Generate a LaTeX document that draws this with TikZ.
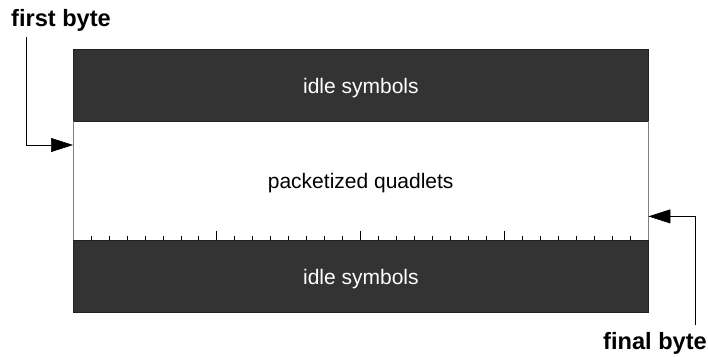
\documentclass[tikz,border=0pt]{standalone}
\usepackage{fontspec}
\setmainfont{Liberation Sans}
\usetikzlibrary{arrows.meta,positioning,calc}
\definecolor{banddark}{HTML}{333333}
\definecolor{bandedge}{HTML}{222222}
\definecolor{sideline}{HTML}{808080}

\begin{document}
\begin{tikzpicture}[
        x=1pt,y=-1pt,
        every node/.style={inner sep=0pt},
        idle/.style={fill=banddark,draw=bandedge,line width=0.8pt,text=white,
          minimum width=575pt,minimum height=72pt,text depth=0pt,
          font=\fontsize{21}{24}\selectfont},
        payload/.style={minimum width=575pt,minimum height=119pt,text depth=0pt,
          font=\fontsize{21}{24}\selectfont},
        marker/.style={font=\bfseries\fontsize{23.6}{26}\selectfont},
        pointer/.style={draw=black,line width=0.6pt,-{Triangle[length=22pt,width=14pt]}},
      ]
      \useasboundingbox (0,0) rectangle (708,356);
      % stack of the three bands
      \node[idle,anchor=north west] (topidle) at (73,49) {idle symbols};
      \node[payload,anchor=north west] (packet) at (73,121) {packetized quadlets};
      \node[idle,anchor=north west] (botidle) at (73,240) {idle symbols};
      \draw[sideline,line width=0.6pt] (packet.north west) -- (packet.south west)
        (packet.north east) -- (packet.south east);
      % byte ruler on the lower edge, 32 steps of 575/32
      \foreach \k in {1,...,31}
        \draw[black,line width=0.6pt] ($(packet.south west)+(\k*17.96875,0)$) -- ++(0,-4);
      \foreach \k in {8,16,24}
        \draw[black,line width=0.6pt] ($(packet.south west)+(\k*17.96875,0)$) -- ++(0,-9);
      % labels and pointers
      \node[marker,anchor=base west] (first) at (11,26) {first byte};
      \node[marker,anchor=base east] (final) at (707,349) {final byte};
      \coordinate (firstin) at ([yshift=-24pt]packet.north west);
      \coordinate (finalin) at ([yshift=24pt]packet.south east);
      \draw[pointer] ([xshift=15pt,yshift=-6pt]first.south west) |- (firstin);
      \draw[pointer] ([xshift=-12pt,yshift=7pt]final.north east) |- (finalin);
\end{tikzpicture}
\end{document}
